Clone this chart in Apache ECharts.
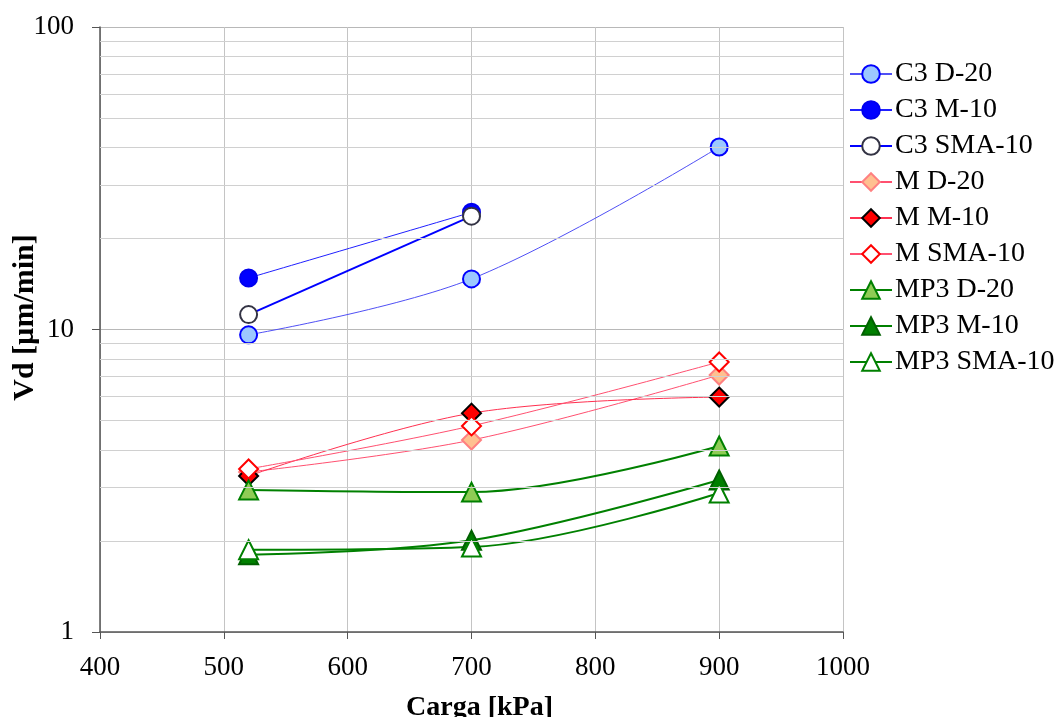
<!DOCTYPE html>
<html>
<head>
<meta charset="utf-8">
<script src="https://cdn.jsdelivr.net/npm/echarts@6/dist/echarts.min.js"></script>
<style>
  html, body { margin: 0; padding: 0; background: #fff; }
  #chart { width: 1062px; height: 717px; }
</style>
</head>
<body>
<div id="chart"></div>
<script>
// Load values (kPa)
const cargaX = [520, 700, 900];
const cargaX2 = [520, 700];

// Vd [µm/min]
const c3D20   = [9.6, 14.7, 40.1];
const c3M10   = [14.8, 24.4];
const c3SMA10 = [11.2, 23.7];
const mD20    = [3.38, 4.31, 7.07];
const mM10    = [3.28, 5.29, 5.98];
const mSMA10  = [3.46, 4.80, 7.81];
const mp3D20  = [2.95, 2.90, 4.12];
const mp3M10  = [1.80, 2.01, 3.18];
const mp3SMA10 = [1.87, 1.91, 2.88];

// Minor log gridlines between decades
const minorGrid = [2, 3, 4, 5, 6, 7, 8, 9, 20, 30, 40, 50, 60, 70, 80, 90];

const serif = 'Liberation Serif';

function pairs(xs, ys) { return ys.map((y, i) => [xs[i], y]); }

function mk(name, xs, ys, o) {
  return {
    name: name,
    type: 'line',
    data: pairs(xs, ys),
    smooth: o.smooth === undefined ? 0.35 : o.smooth,
    symbol: o.symbol,
    symbolSize: o.size,
    lineStyle: { color: o.line, width: o.lw || 1 },
    itemStyle: { color: o.fill, borderColor: o.border, borderWidth: 2 },
    emphasis: { disabled: true },
    z: 3
  };
}

const series = [
  mk('C3 D-20', cargaX, c3D20, { symbol: 'circle', size: 17, line: '#5050f5', fill: '#9cc8ff', border: '#0000ff' }),
  mk('C3 M-10', cargaX2, c3M10, { symbol: 'circle', size: 17, line: '#2020ff', fill: '#0000ff', border: '#0000ee' }),
  mk('C3 SMA-10', cargaX2, c3SMA10, { symbol: 'circle', size: 17, line: '#0000ff', lw: 2, fill: '#ffffff', border: '#333344' }),
  mk('M D-20', cargaX, mD20, { symbol: 'diamond', size: 19, line: '#ff5070', fill: '#ffc090', border: '#ff8080' }),
  mk('M M-10', cargaX, mM10, { symbol: 'diamond', size: 19, line: '#ff3050', fill: '#ff0000', border: '#000000' }),
  mk('M SMA-10', cargaX, mSMA10, { symbol: 'diamond', size: 19, line: '#ff5070', fill: '#ffffff', border: '#ff0000' }),
  mk('MP3 D-20', cargaX, mp3D20, { symbol: 'triangle', size: 19, line: '#008000', lw: 2, fill: '#8fcc55', border: '#008000' }),
  mk('MP3 M-10', cargaX, mp3M10, { symbol: 'triangle', size: 19, line: '#008000', lw: 2, fill: '#008000', border: '#006000' }),
  mk('MP3 SMA-10', cargaX, mp3SMA10, { symbol: 'triangle', size: 19, line: '#008000', lw: 2, fill: '#ffffff', border: '#008000' }),
  {
    name: 'minor-grid',
    type: 'line',
    data: [],
    z: 1,
    silent: true,
    markLine: {
      silent: true,
      symbol: ['none', 'none'],
      label: { show: false },
      lineStyle: { color: '#d0d0d0', width: 1, type: 'solid' },
      emphasis: { disabled: true },
      animation: false,
      data: minorGrid.map(v => ({ yAxis: v }))
    }
  }
];

const chart = echarts.init(document.getElementById('chart'));
chart.setOption({
  animation: false,
  backgroundColor: '#ffffff',
  textStyle: { fontFamily: serif },
  grid: { left: 100, right: 219, top: 27, bottom: 85, containLabel: false, outerBoundsMode: 'none' },
  legend: {
    orient: 'vertical',
    left: 844,
    top: 55,
    itemWidth: 42,
    itemHeight: 22,
    itemGap: 8,
    data: ['C3 D-20', 'C3 M-10', 'C3 SMA-10', 'M D-20', 'M M-10', 'M SMA-10', 'MP3 D-20', 'MP3 M-10', 'MP3 SMA-10'],
    textStyle: { fontFamily: serif, fontSize: 28, color: '#000', padding: [0, 0, 0, -2] },
    selectedMode: false
  },
  xAxis: {
    type: 'value',
    min: 400,
    max: 1000,
    interval: 100,
    name: 'Carga [kPa]',
    nameLocation: 'middle',
    nameGap: 62,
    nameMoveOverlap: false,
    nameTextStyle: { fontFamily: serif, fontSize: 28, fontWeight: 'bold', color: '#000', padding: [0, 0, 0, 16] },
    axisLine: { lineStyle: { color: '#555', width: 1.5 } },
    axisTick: { show: true, inside: false, length: 7, lineStyle: { color: '#555' } },
    axisLabel: { fontFamily: serif, fontSize: 27, color: '#000', margin: 22, formatter: v => String(v) },
    splitLine: { show: true, lineStyle: { color: '#c4c4c4', width: 1 } }
  },
  yAxis: {
    type: 'log',
    logBase: 10,
    min: 1,
    max: 100,
    name: 'Vd [µm/min]',
    nameLocation: 'middle',
    nameGap: 60,
    nameMoveOverlap: false,
    nameTextStyle: { fontFamily: serif, fontSize: 30, fontWeight: 'bold', color: '#000', padding: [0, 0, 0, 24] },
    axisLine: { show: true, lineStyle: { color: '#555', width: 1.5 } },
    axisTick: { show: true, inside: false, length: 8, lineStyle: { color: '#555' } },
    axisLabel: { fontFamily: serif, fontSize: 27, color: '#000', margin: 26, formatter: v => String(v) },
    splitLine: { show: true, lineStyle: { color: '#b8b8b8', width: 1 } }
  },
  series: series
});
</script>
</body>
</html>
